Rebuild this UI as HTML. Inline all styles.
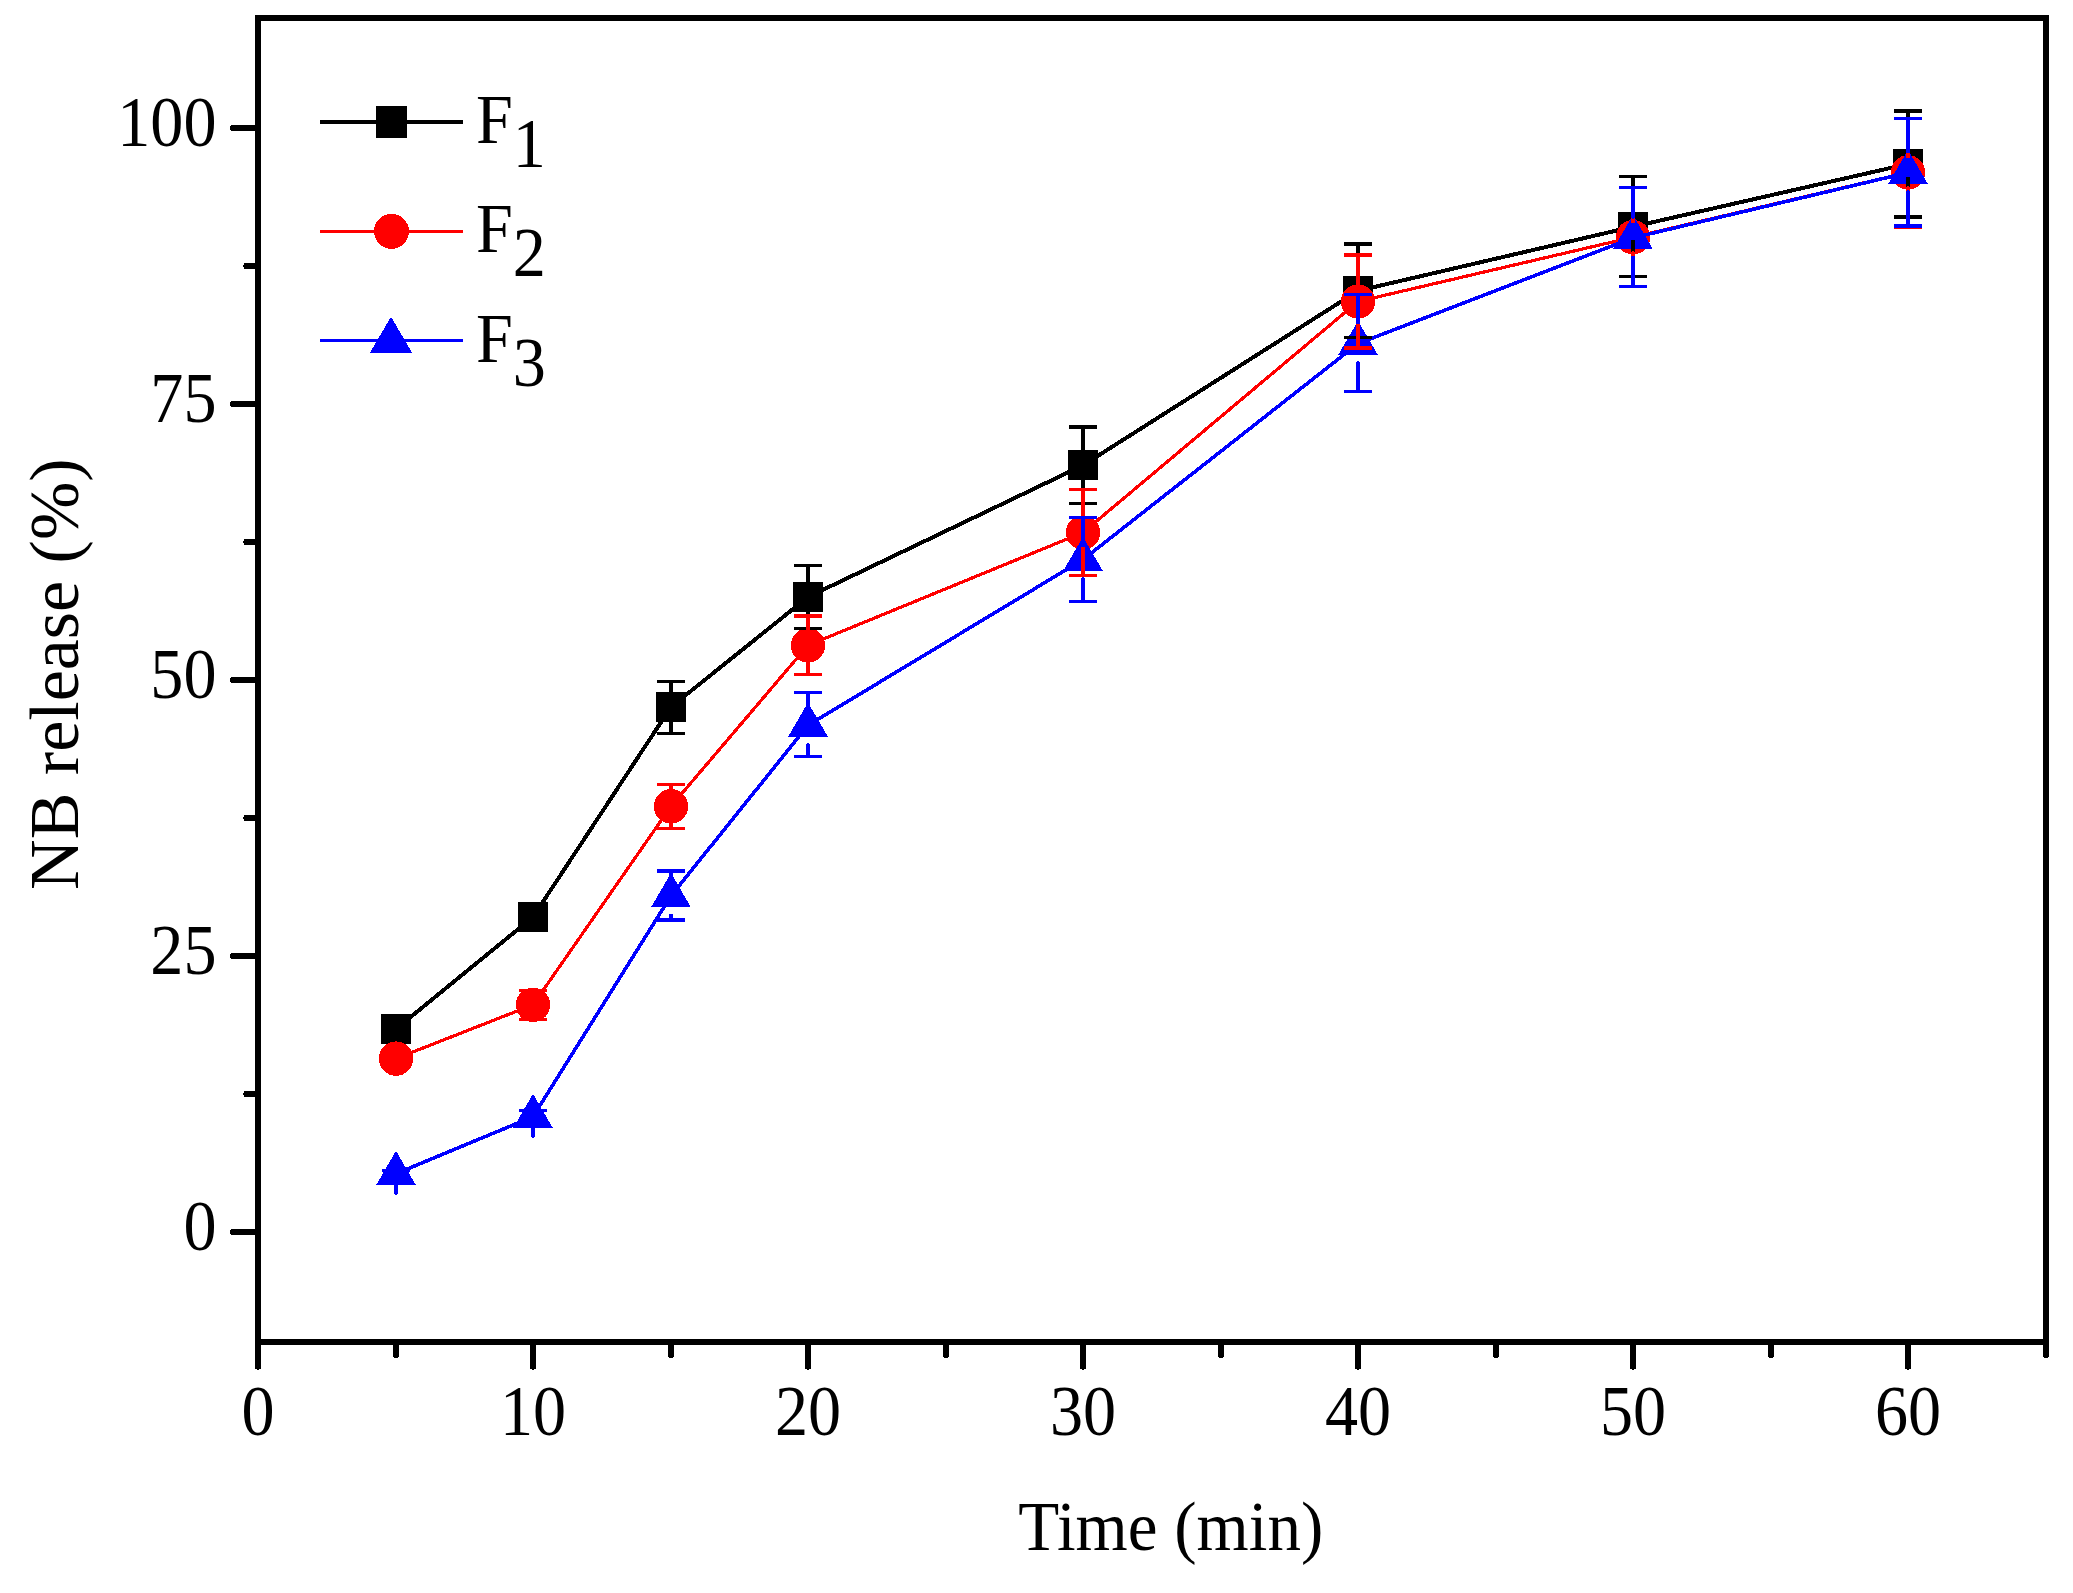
<!DOCTYPE html>
<html lang="en"><head><meta charset="utf-8"><title>NB release (%) vs Time (min)</title>
<style>html,body{margin:0;padding:0;background:#fff;}body{width:2073px;height:1593px;overflow:hidden;}svg{display:block;}text{font-family:"Liberation Serif","Times New Roman",Times,serif;fill:#000;}</style>
</head><body>
<svg width="2073" height="1593" viewBox="0 0 2073 1593" shape-rendering="crispEdges">
<rect x="0" y="0" width="2073" height="1593" fill="#fff"/>
<g id="series">
<polyline points="396.0,1029.0 533.0,917.0 671.0,707.0 808.0,597.0 1083.0,465.3 1358.0,290.8 1633.0,226.7 1908.0,164.0" fill="none" stroke="#000" stroke-width="4.0" stroke-linejoin="round"/>
<rect x="381.0" y="1014.0" width="30" height="30" fill="#000"/>
<rect x="518.0" y="902.0" width="30" height="30" fill="#000"/>
<rect x="656.0" y="692.0" width="30" height="30" fill="#000"/>
<rect x="793.0" y="582.0" width="30" height="30" fill="#000"/>
<rect x="1068.0" y="450.3" width="30" height="30" fill="#000"/>
<rect x="1343.0" y="275.8" width="30" height="30" fill="#000"/>
<rect x="1618.0" y="211.7" width="30" height="30" fill="#000"/>
<rect x="1893.0" y="149.0" width="30" height="30" fill="#000"/>
<polyline points="396.0,1058.6 533.0,1004.8 671.0,806.3 808.0,645.3 1083.0,532.5 1358.0,301.5 1633.0,237.2 1908.0,172.4" fill="none" stroke="#ff0000" stroke-width="3.2" stroke-linejoin="round"/>
<circle cx="396.0" cy="1058.6" r="17.2" fill="#ff0000"/>
<circle cx="533.0" cy="1004.8" r="17.2" fill="#ff0000"/>
<circle cx="671.0" cy="806.3" r="17.2" fill="#ff0000"/>
<circle cx="808.0" cy="645.3" r="17.2" fill="#ff0000"/>
<circle cx="1083.0" cy="532.5" r="17.2" fill="#ff0000"/>
<circle cx="1358.0" cy="301.5" r="17.2" fill="#ff0000"/>
<circle cx="1633.0" cy="237.2" r="17.2" fill="#ff0000"/>
<circle cx="1908.0" cy="172.4" r="17.2" fill="#ff0000"/>
<polyline points="396.0,1173.7 533.0,1116.7 671.0,895.8 808.0,725.3 1083.0,559.6 1358.0,343.6 1633.0,237.8 1908.0,172.6" fill="none" stroke="#0000ff" stroke-width="3.6" stroke-linejoin="round"/>
<polygon points="396.0,1150.9 415.9,1185.1 376.1,1185.1" fill="#0000ff"/>
<polygon points="533.0,1093.9 552.9,1128.1 513.1,1128.1" fill="#0000ff"/>
<polygon points="671.0,873.0 690.9,907.2 651.1,907.2" fill="#0000ff"/>
<polygon points="808.0,702.5 827.9,736.7 788.1,736.7" fill="#0000ff"/>
<polygon points="1083.0,536.8 1102.9,571.0 1063.1,571.0" fill="#0000ff"/>
<polygon points="1358.0,320.8 1377.9,355.0 1338.1,355.0" fill="#0000ff"/>
<polygon points="1633.0,215.0 1652.9,249.2 1613.1,249.2" fill="#0000ff"/>
<polygon points="1908.0,149.8 1927.9,184.0 1888.1,184.0" fill="#0000ff"/>
</g>
<g id="errorbars">
<g stroke="#000" fill="none">
<path d="M671.0 681.7 V692.5 M671.0 721.5 V732.9" stroke-width="3.7" stroke-linecap="round"/>
<path d="M657.0 681.3 H685.2 M657.0 733.3 H685.2" stroke-width="3.3" stroke-linecap="butt"/>
<path d="M808.0 565.8 V582.5 M808.0 611.5 V628.1" stroke-width="3.7" stroke-linecap="round"/>
<path d="M794.0 565.4 H822.2 M794.0 628.5 H822.2" stroke-width="3.3" stroke-linecap="butt"/>
<path d="M1083.0 427.4 V450.8 M1083.0 479.8 V503.3" stroke-width="3.7" stroke-linecap="round"/>
<path d="M1069.0 427.0 H1097.2 M1069.0 503.7 H1097.2" stroke-width="3.3" stroke-linecap="butt"/>
<path d="M1358.0 244.3 V276.3 M1358.0 305.3 V337.0" stroke-width="3.7" stroke-linecap="round"/>
<path d="M1344.0 243.9 H1372.2 M1344.0 337.4 H1372.2" stroke-width="3.3" stroke-linecap="butt"/>
<path d="M1633.0 176.8 V212.2 M1633.0 241.2 V276.0" stroke-width="3.7" stroke-linecap="round"/>
<path d="M1619.0 176.4 H1647.2 M1619.0 276.4 H1647.2" stroke-width="3.3" stroke-linecap="butt"/>
<path d="M1908.0 111.3 V149.5 M1908.0 178.5 V216.6" stroke-width="3.7" stroke-linecap="round"/>
<path d="M1894.0 110.9 H1922.2 M1894.0 217.0 H1922.2" stroke-width="3.3" stroke-linecap="butt"/>
</g>
<g stroke="#ff0000" fill="none">
<path d="M533.0 1020.5 V1019.4" stroke-width="3.7" stroke-linecap="round"/>
<path d="M519.0 990.6 H547.2 M519.0 1019.4 H547.2" stroke-width="3.3" stroke-linecap="butt"/>
<path d="M671.0 784.6 V790.6 M671.0 822.0 V828.1" stroke-width="3.7" stroke-linecap="round"/>
<path d="M657.0 784.2 H685.2 M657.0 828.5 H685.2" stroke-width="3.3" stroke-linecap="butt"/>
<path d="M808.0 616.4 V629.6 M808.0 661.0 V674.0" stroke-width="3.7" stroke-linecap="round"/>
<path d="M794.0 616.0 H822.2 M794.0 674.4 H822.2" stroke-width="3.3" stroke-linecap="butt"/>
<path d="M1083.0 489.8 V516.8 M1083.0 548.2 V575.2" stroke-width="3.7" stroke-linecap="round"/>
<path d="M1069.0 489.4 H1097.2 M1069.0 575.6 H1097.2" stroke-width="3.3" stroke-linecap="butt"/>
<path d="M1358.0 255.3 V285.8 M1358.0 317.2 V347.7" stroke-width="3.7" stroke-linecap="round"/>
<path d="M1344.0 254.9 H1372.2 M1344.0 348.1 H1372.2" stroke-width="3.3" stroke-linecap="butt"/>
<path d="M1633.0 187.9 V221.5 M1633.0 252.9 V286.0" stroke-width="3.7" stroke-linecap="round"/>
<path d="M1619.0 187.5 H1647.2 M1619.0 286.4 H1647.2" stroke-width="3.3" stroke-linecap="butt"/>
<path d="M1908.0 118.8 V156.7 M1908.0 188.1 V227.1" stroke-width="3.7" stroke-linecap="round"/>
<path d="M1894.0 118.4 H1922.2 M1894.0 227.5 H1922.2" stroke-width="3.3" stroke-linecap="butt"/>
</g>
<g stroke="#0000ff" fill="none">
<path d="M396.0 1193.1 V1177.0" stroke-width="3.7" stroke-linecap="round"/>
<path d="M382.0 1170.4 H410.2 M382.0 1177.0 H410.2" stroke-width="3.3" stroke-linecap="butt"/>
<path d="M533.0 1136.1 V1122.9" stroke-width="3.7" stroke-linecap="round"/>
<path d="M519.0 1110.5 H547.2 M519.0 1122.9 H547.2" stroke-width="3.3" stroke-linecap="butt"/>
<path d="M671.0 871.4 V874.9 M671.0 915.2 V919.6" stroke-width="3.7" stroke-linecap="round"/>
<path d="M657.0 871.0 H685.2 M657.0 920.0 H685.2" stroke-width="3.3" stroke-linecap="butt"/>
<path d="M808.0 693.0 V704.4 M808.0 744.7 V756.1" stroke-width="3.7" stroke-linecap="round"/>
<path d="M794.0 692.6 H822.2 M794.0 756.5 H822.2" stroke-width="3.3" stroke-linecap="butt"/>
<path d="M1083.0 517.9 V538.7 M1083.0 579.0 V600.8" stroke-width="3.7" stroke-linecap="round"/>
<path d="M1069.0 517.5 H1097.2 M1069.0 601.2 H1097.2" stroke-width="3.3" stroke-linecap="butt"/>
<path d="M1358.0 294.9 V322.7 M1358.0 363.0 V391.4" stroke-width="3.7" stroke-linecap="round"/>
<path d="M1344.0 294.5 H1372.2 M1344.0 391.8 H1372.2" stroke-width="3.3" stroke-linecap="butt"/>
<path d="M1633.0 187.9 V216.9 M1633.0 257.2 V286.0" stroke-width="3.7" stroke-linecap="round"/>
<path d="M1619.0 187.5 H1647.2 M1619.0 286.4 H1647.2" stroke-width="3.3" stroke-linecap="butt"/>
<path d="M1908.0 119.0 V151.7 M1908.0 192.0 V225.6" stroke-width="3.7" stroke-linecap="round"/>
<path d="M1894.0 118.6 H1922.2 M1894.0 226.0 H1922.2" stroke-width="3.3" stroke-linecap="butt"/>
</g>
</g>
<g id="axes" stroke="#000" fill="none">
<rect x="258" y="18" width="1787.5" height="1324" stroke-width="6"/>
<path d="M233 1232.0 H256 M233 956.0 H256 M233 680.0 H256 M233 404.0 H256 M233 128.0 H256 M246.3 1094.0 H256 M246.3 818.0 H256 M246.3 542.0 H256 M246.3 266.0 H256 M258.0 1343 V1366.7 M533.0 1343 V1366.7 M808.0 1343 V1366.7 M1083.0 1343 V1366.7 M1358.0 1343 V1366.7 M1633.0 1343 V1366.7 M1908.0 1343 V1366.7 M396.0 1343 V1355 M671.0 1343 V1355 M946.0 1343 V1355 M1221.0 1343 V1355 M1496.0 1343 V1355 M1771.0 1343 V1355 M2046.0 1343 V1355" stroke-width="6" stroke-linecap="round"/>
</g>
<g id="ticklabels">
<text transform="translate(216.50 1250.30) scale(0.9320 1)" font-size="71.00" text-anchor="end">0</text>
<text transform="translate(216.50 974.30) scale(0.9320 1)" font-size="71.00" text-anchor="end">25</text>
<text transform="translate(216.50 698.30) scale(0.9320 1)" font-size="71.00" text-anchor="end">50</text>
<text transform="translate(216.50 422.30) scale(0.9320 1)" font-size="71.00" text-anchor="end">75</text>
<text transform="translate(216.50 146.30) scale(0.9320 1)" font-size="71.00" text-anchor="end">100</text>
<text transform="translate(258.00 1434.70) scale(0.9320 1)" font-size="71.00" text-anchor="middle">0</text>
<text transform="translate(533.00 1434.70) scale(0.9320 1)" font-size="71.00" text-anchor="middle">10</text>
<text transform="translate(808.00 1434.70) scale(0.9320 1)" font-size="71.00" text-anchor="middle">20</text>
<text transform="translate(1083.00 1434.70) scale(0.9320 1)" font-size="71.00" text-anchor="middle">30</text>
<text transform="translate(1358.00 1434.70) scale(0.9320 1)" font-size="71.00" text-anchor="middle">40</text>
<text transform="translate(1633.00 1434.70) scale(0.9320 1)" font-size="71.00" text-anchor="middle">50</text>
<text transform="translate(1908.00 1434.70) scale(0.9320 1)" font-size="71.00" text-anchor="middle">60</text>
</g>
<g id="titles">
<text transform="translate(1170.80 1550.30) scale(0.9587 1)" font-size="70.00" text-anchor="middle">Time (min)</text>
<text transform="translate(77.8 674.2) rotate(-90)" font-size="70.00" text-anchor="middle">NB release (%)</text>
</g>
<g id="legend">
<line x1="322" y1="122" x2="461" y2="122" stroke="#000" stroke-width="4.2" stroke-linecap="round"/>
<rect x="376" y="106" width="31" height="32" fill="#000"/>
<line x1="320" y1="231.5" x2="463" y2="231.5" stroke="#ff0000" stroke-width="3.2"/>
<circle cx="391.5" cy="231.4" r="17.5" fill="#ff0000"/>
<line x1="320" y1="340.5" x2="463" y2="340.5" stroke="#0000ff" stroke-width="3.3"/>
<polygon points="391,316.7 412.1,352.9 369.9,352.9" fill="#0000ff"/>
<text transform="translate(476 142.8) scale(0.9450 1)" font-size="70.00" text-anchor="start">F<tspan dy="24.2">1</tspan></text>
<text transform="translate(476 251.9) scale(0.9450 1)" font-size="70.00" text-anchor="start">F<tspan dy="24.2">2</tspan></text>
<text transform="translate(476 361.6) scale(0.9450 1)" font-size="70.00" text-anchor="start">F<tspan dy="24.2">3</tspan></text>
</g>
</svg>
</body></html>
